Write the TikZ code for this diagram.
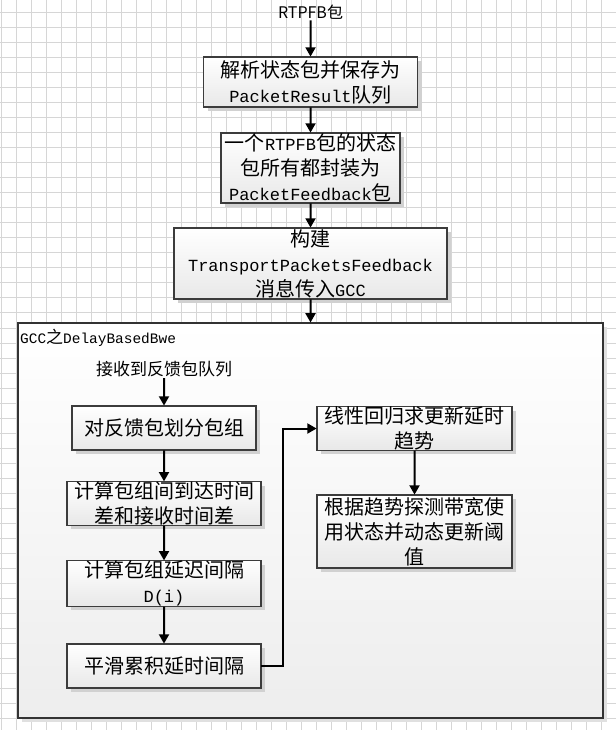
\documentclass[tikz,border=0pt]{standalone}
\usepackage{fontspec}
\setmainfont{Noto Sans CJK SC}
\newfontfamily\mono[Scale=0.85]{Liberation Mono}
\usetikzlibrary{arrows.meta, shadows}
\definecolor{gridgray}{RGB}{214,214,214}
\definecolor{edgegray}{RGB}{60,60,60}

\begin{document}
\begin{tikzpicture}[x=1pt, y=-1pt, scale=0.75, transform shape,
	gridline/.style={draw=gridgray, line width=0.75pt},
	stepbox/.style={shape=rectangle, draw=edgegray, line width=0.8pt, top color=white, bottom color=black!9, drop shadow={shadow xshift=3pt, shadow yshift=-3pt, fill=black!18, opacity=1}, align=center, inner sep=0pt, font=\fontsize{20}{25}\selectfont},
	frame/.style={shape=rectangle, draw=black!80, line width=1pt, top color=white, bottom color=black!7, drop shadow={shadow xshift=3pt, shadow yshift=-3pt, fill=black!12, opacity=1}},
	tag/.style={inner sep=1pt, font=\fontsize{16}{20}\selectfont},
	flow/.style={draw=black, line width=1.5pt, -{Triangle[width=7.5pt, length=7pt]}}]
	\useasboundingbox (0, 0) rectangle (616, 730);
	% Background grid:
	\foreach \gx in {1, 16, ..., 601} \draw[gridline] (\gx, 0) -- (\gx, 730);
	\foreach \gy in {13, 28, ..., 718} \draw[gridline] (0, \gy) -- (616, \gy);
	% Upper chain:
	\node[tag] (rtpfb) at (310.5, 12) {RTPFB包};
	\node[stepbox, minimum width=214pt, minimum height=50pt] (parse) at (310.5, 82) {解析状态包并保存为\\{\mono PacketResult}队列};
	\node[stepbox, minimum width=179pt, minimum height=70pt] (wrap) at (310.5, 168) {一个{\mono RTPFB}包的状态\\包所有都封装为\\{\mono PacketFeedback}包};
	\node[stepbox, minimum width=273pt, minimum height=71pt] (build) at (310.5, 263.5) {构建\\{\mono TransportPacketsFeedback}\\消息传入{\mono GCC}};
	% GCC container:
	\node[frame, minimum width=585pt, minimum height=395pt] (gcc) at (310.5, 520.5) {};
	\node[tag, anchor=west, font=\fontsize{17}{20}\selectfont] (gcctitle) at (19, 338) {{\mono GCC}之{\mono DelayBasedBwe}};
	\node[tag, font=\fontsize{17}{20}\selectfont] (recv) at (164, 369) {接收到反馈包队列};
	\node[stepbox, minimum width=184pt, minimum height=44pt] (group) at (164, 428) {对反馈包划分包组};
	\node[stepbox, minimum width=194pt, minimum height=43pt] (delta) at (164, 503.5) {计算包组间到达时间\\差和接收时间差};
	\node[stepbox, minimum width=194pt, minimum height=43pt] (delay) at (164, 583.5) {计算包组延迟间隔\\{\mono D(i)}};
	\node[stepbox, minimum width=194pt, minimum height=44pt] (smooth) at (164, 666) {平滑累积延时间隔};
	\node[stepbox, minimum width=195pt, minimum height=43pt] (trend) at (414.5, 428.5) {线性回归求更新延时\\趋势};
	\node[stepbox, minimum width=195pt, minimum height=73pt] (detect) at (414.5, 531.5) {根据趋势探测带宽使\\用状态并动态更新阈\\值};
	\coordinate (bend) at (283, 666);
	% Connectors:
	\draw[flow] (rtpfb) -- (parse);
	\draw[flow] (parse) -- (wrap);
	\draw[flow] (wrap) -- (build);
	\draw[flow] (build) -- (gcc);
	\draw[flow] (recv) -- (group);
	\draw[flow] (group) -- (delta);
	\draw[flow] (delta) -- (delay);
	\draw[flow] (delay) -- (smooth);
	\draw[flow] (smooth.east) -- (bend) |- (trend.west);
	\draw[flow] (trend) -- (detect);
\end{tikzpicture}
\end{document}
